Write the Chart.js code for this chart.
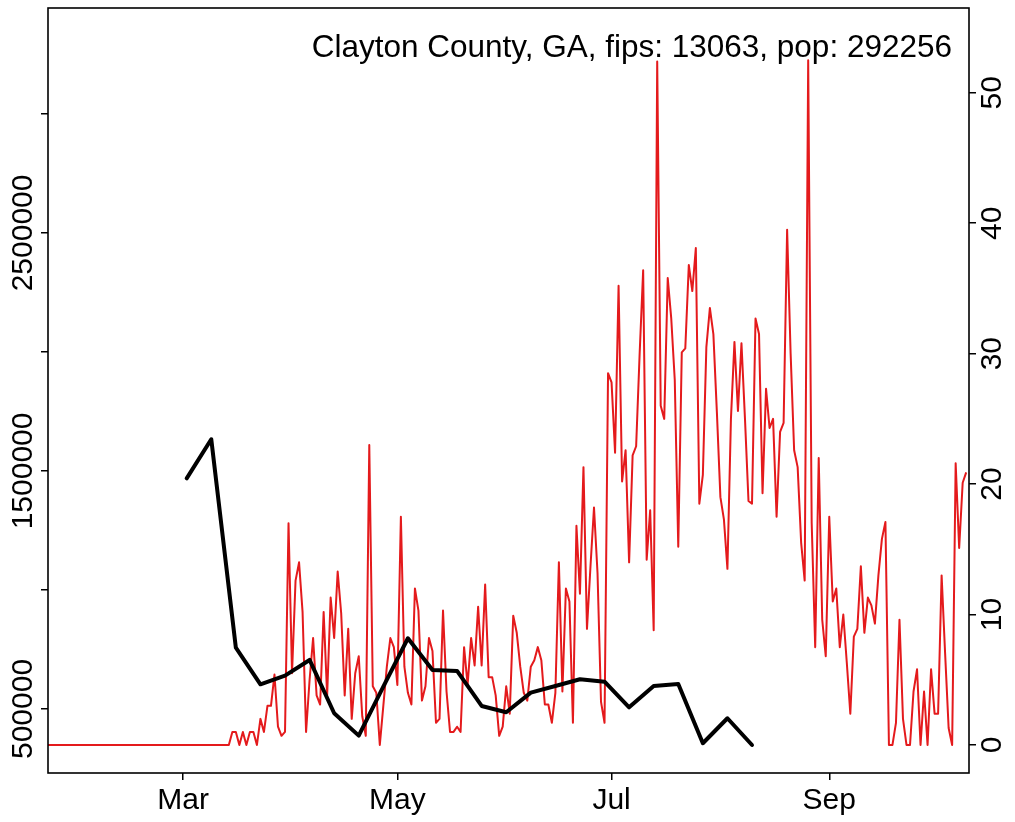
<!DOCTYPE html>
<html>
<head>
<meta charset="utf-8">
<script src="https://cdn.jsdelivr.net/npm/chart.js@4.4.1/dist/chart.umd.min.js"></script>
<style>
html,body{margin:0;padding:0;background:#fff;}
#wrap{position:relative;width:1015px;height:822px;}
canvas{display:block;}
</style>
</head>
<body>
<div id="wrap"><canvas id="c" width="1015" height="822"></canvas></div>
<script>
// ---- text ----
const titleText = 'Clayton County, GA, fips: 13063, pop: 292256';

// ---- x axis: days counted from 1 March 2020 ----
const monthTickDays   = [0, 61, 122, 184];
const monthTickLabels = ['Mar', 'May', 'Jul', 'Sep'];

// ---- red series: daily new cases, one value per day starting 22 Jan 2020 (day -39) ----
const casesStartDay = -39;
const dailyCases = [
  0,0,0,0,0,0,0,0,0,0,
  0,0,0,0,0,0,0,0,0,0,
  0,0,0,0,0,0,0,0,0,0,
  0,0,0,0,0,0,0,0,0,0,
  0,0,0,0,0,0,0,0,0,0,
  0,0,0,1,1,0,1,0,1,1,
  0,2,1,3,3,5.4,1.4,0.7,1,17,
  5.5,12.6,14,10.2,1,5,8.2,3.8,3.1,10.2,
  3.8,11.3,8.2,13.3,10.1,3.8,8.9,2,5.5,6.8,
  2.2,0.7,23,4.5,4,0,3,6,8.2,7.5,
  4.6,17.5,6,4,3.1,12,10.3,3.4,4.5,8.2,
  7.2,1.7,2,10.3,4.1,1,1,1.4,1,7.5,
  4.6,8.2,6.1,10.6,6.1,12.3,5.2,5.2,3.8,0.7,
  1.4,4.5,2.4,9.9,8.6,6,4,3.4,6,6.5,
  7.5,6.5,3.1,3.1,1.7,4,14,4.1,12,11,
  1.7,16.8,11.6,21.3,8.9,13.7,18.2,13.2,3.3,1.7,
  28.5,27.8,22.4,35.2,20.2,22.6,14,22.2,22.9,30,
  36.4,14.2,18,8.8,52.4,26,25,35.8,32.7,28,
  15.2,30.1,30.4,36.8,34.8,38.1,18.5,20.7,30.5,33.5,
  31.5,25.5,19,17.3,13.5,25,30.9,25.6,30.8,25,
  18.7,18.5,32.7,31.5,19.3,27.3,24.3,25,17.5,24,
  24.7,39.5,30,22.6,21.3,15.5,12.6,52.5,17,7.5,
  22,9.6,6.8,17.5,11,12,7.5,10,6.3,2.4,
  8.3,8.9,13.7,8.6,11.3,10.7,9.3,13,15.8,17.1,
  0,0,1.7,9.6,2,0,0,4.1,5.8,0,
  4.1,0,5.8,2.4,2.4,13,7,1.3,0,21.6,
  15.1,20.1,20.9
];

// ---- black series: weekly values (left axis) ----
const weeklyDays = [1, 8, 15, 22, 29, 36, 43, 50, 57, 64, 71, 78, 85, 92, 99, 106, 113, 120, 127, 134, 141, 148, 155, 162];
const weeklyValues = [1469000, 1633000, 757600, 603800, 640000, 706000, 482000, 388000, 594000, 797000, 664000, 660000,
                      512600, 486000, 568500, 596600, 624800, 614700, 507000, 596600, 605000, 355900, 461000, 348700];

// ---- axis ticks ----
const leftTicks     = [500000, 1000000, 1500000, 2000000, 2500000, 3000000];
const leftLabelled  = [500000, 1500000, 2500000];
const rightTicks    = [0, 10, 20, 30, 40, 50];

const FONT = '"Liberation Sans", Arimo, Arial, Helvetica, sans-serif';

const casesData  = dailyCases.map((v, i) => ({x: casesStartDay + i, y: v}));
const weeklyData = weeklyDays.map((d, i) => ({x: d, y: weeklyValues[i]}));

const framePlugin = {
  id: 'frameAndLabels',
  afterDraw(chart) {
    const ctx = chart.ctx;
    const a = chart.chartArea;
    ctx.save();
    ctx.strokeStyle = '#000';
    ctx.lineWidth = 1.6;
    ctx.strokeRect(a.left, a.top, a.right - a.left, a.bottom - a.top);
    ctx.fillStyle = '#000';
    ctx.font = '30px ' + FONT;
    ctx.textAlign = 'center';
    ctx.textBaseline = 'alphabetic';
    const yl = chart.scales.y;
    leftLabelled.forEach(v => {
      const py = yl.getPixelForValue(v);
      ctx.save(); ctx.translate(32, py); ctx.rotate(-Math.PI / 2); ctx.fillText(String(v), 0, 0); ctx.restore();
    });
    const yr = chart.scales.y2;
    rightTicks.forEach(v => {
      const py = yr.getPixelForValue(v);
      ctx.save(); ctx.translate(1001, py); ctx.rotate(-Math.PI / 2); ctx.fillText(String(v), 0, 0); ctx.restore();
    });
    ctx.font = '31.5px ' + FONT;
    ctx.textAlign = 'right';
    ctx.fillText(titleText, 952, 57);
    ctx.restore();
  }
};

new Chart(document.getElementById('c'), {
  type: 'line',
  data: {
    datasets: [
      {
        data: weeklyData, yAxisID: 'y', borderColor: '#000', borderWidth: 4,
        pointRadius: 0, tension: 0, fill: false, borderJoinStyle: 'round', borderCapStyle: 'round'
      },
      {
        data: casesData, yAxisID: 'y2', borderColor: 'rgb(228,26,28)', borderWidth: 2,
        pointRadius: 0, tension: 0, fill: false, borderJoinStyle: 'round'
      }
    ]
  },
  options: {
    responsive: false,
    animation: false,
    devicePixelRatio: 1,
    layout: {padding: {top: 8, left: 0, right: 0, bottom: 0}},
    plugins: {legend: {display: false}, tooltip: {enabled: false}, title: {display: false}},
    scales: {
      x: {
        type: 'linear', position: 'bottom', min: -38.5, max: 223.8,
        afterBuildTicks: s => { s.ticks = monthTickDays.map(v => ({value: v})); },
        afterFit: s => { s.height = 49; },
        ticks: {
          autoSkip: false, maxRotation: 0, minRotation: 0, padding: 3, color: '#000',
          font: {family: FONT, size: 30},
          callback: v => { const i = monthTickDays.indexOf(v); return i >= 0 ? monthTickLabels[i] : ''; }
        },
        grid: {drawOnChartArea: false, drawTicks: true, tickLength: 7, color: '#000', lineWidth: 1.5},
        border: {display: false}
      },
      y: {
        type: 'linear', position: 'left', min: 231000, max: 3445000,
        afterBuildTicks: s => { s.ticks = leftTicks.map(v => ({value: v})); },
        afterFit: s => { s.width = 48; },
        ticks: {display: false},
        grid: {drawOnChartArea: false, drawTicks: true, tickLength: 7, color: '#000', lineWidth: 1.5},
        border: {display: false}
      },
      y2: {
        type: 'linear', position: 'right', min: -2.15, max: 56.5,
        afterBuildTicks: s => { s.ticks = rightTicks.map(v => ({value: v})); },
        afterFit: s => { s.width = 46; },
        ticks: {display: false},
        grid: {drawOnChartArea: false, drawTicks: true, tickLength: 7, color: '#000', lineWidth: 1.5},
        border: {display: false}
      }
    }
  },
  plugins: [framePlugin]
});
</script>
</body>
</html>
